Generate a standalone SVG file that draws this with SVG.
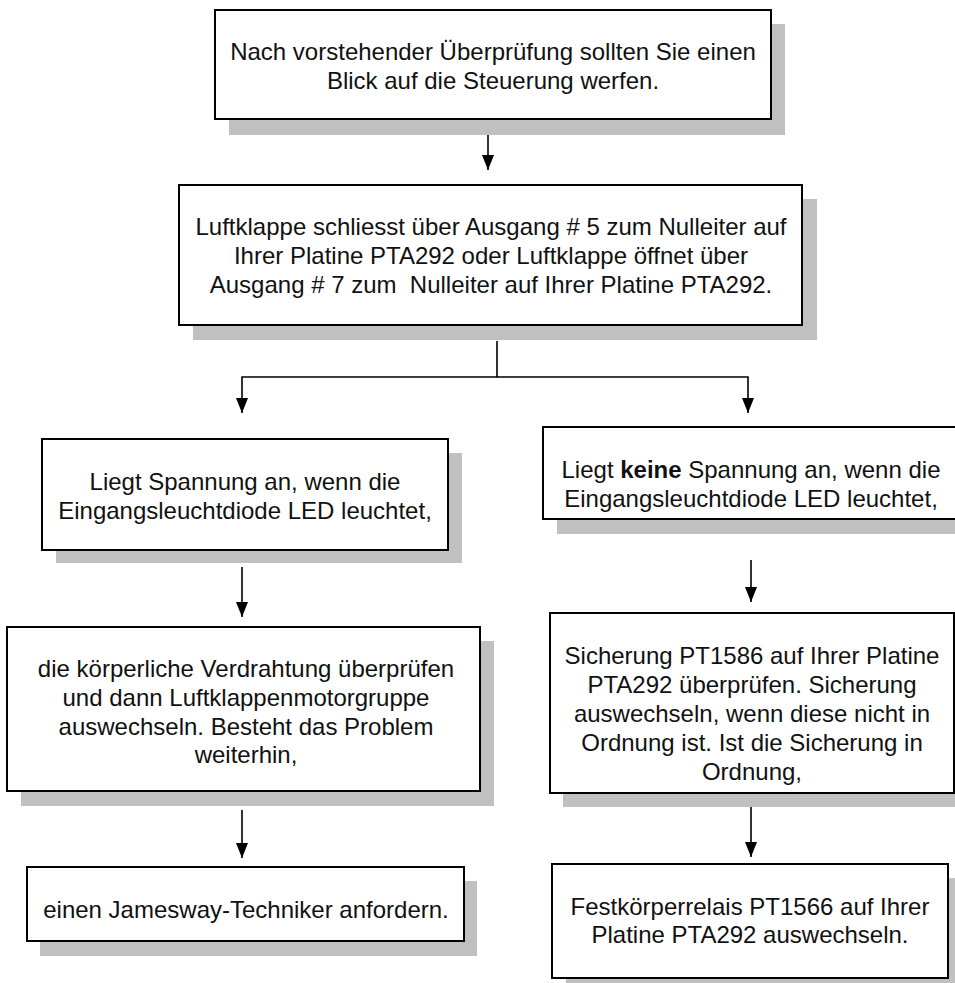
<svg xmlns="http://www.w3.org/2000/svg" width="955" height="983" viewBox="0 0 955 983">
  <style>
    .box { fill: #ffffff; stroke: #000000; stroke-width: 2; }
    .shadow { fill: #c0c0c0; stroke: none; }
    .txt { font-family: "Liberation Sans", Arial, Helvetica, sans-serif; font-size: 24px; fill: #111111; text-anchor: middle; }
    .bold { font-weight: bold; }
    .wire { fill: none; stroke: #000000; stroke-width: 1.6; }
  </style>
  <defs>
    <marker id="arrow" markerUnits="userSpaceOnUse" viewBox="0 0 15 12" refX="15" refY="6" markerWidth="15" markerHeight="12" orient="auto">
      <path d="M0,0 L15,6 L0,12 z" fill="#000000"/>
    </marker>
  </defs>

  <rect width="955" height="983" fill="#ffffff"/>

  <!-- connectors -->
  <g id="connectors">
    <path class="wire" d="M488,135 L488,170" marker-end="url(#arrow)"/>
    <path class="wire" d="M497,341 L497,377 L242,377 L242,413" marker-end="url(#arrow)"/>
    <path class="wire" d="M497,377 L748,377 L748,413" marker-end="url(#arrow)"/>
    <path class="wire" d="M242,567 L242,617" marker-end="url(#arrow)"/>
    <path class="wire" d="M242,810 L242,858" marker-end="url(#arrow)"/>
    <path class="wire" d="M751,560 L751,602" marker-end="url(#arrow)"/>
    <path class="wire" d="M751,807 L751,857" marker-end="url(#arrow)"/>
  </g>

  <!-- start -->
  <g id="n1">
    <rect class="shadow" x="229" y="24" width="556" height="111"/>
    <rect class="box" x="215" y="10" width="556" height="109"/>
    <text class="txt" x="493" y="60">Nach vorstehender Überprüfung sollten Sie einen</text>
    <text class="txt" x="493" y="89">Blick auf die Steuerung werfen.</text>
  </g>

  <g id="n2">
    <rect class="shadow" x="193" y="199" width="624" height="141"/>
    <rect class="box" x="179" y="185" width="623" height="140"/>
    <text class="txt" x="491" y="235">Luftklappe schliesst über Ausgang # 5 zum Nulleiter auf</text>
    <text class="txt" x="491" y="264">Ihrer Platine PTA292 oder Luftklappe öffnet über</text>
    <text class="txt" x="491" y="293" xml:space="preserve">Ausgang # 7 zum  Nulleiter auf Ihrer Platine PTA292.</text>
  </g>

  <!-- left branch -->
  <g id="n3">
    <rect class="shadow" x="56" y="453" width="406" height="110"/>
    <rect class="box" x="42" y="439" width="406" height="111"/>
    <text class="txt" x="245" y="490">Liegt Spannung an, wenn die</text>
    <text class="txt" x="245" y="519">Eingangsleuchtdiode LED leuchtet,</text>
  </g>

  <g id="n5">
    <rect class="shadow" x="21" y="641" width="473" height="165"/>
    <rect class="box" x="7" y="627" width="473" height="164"/>
    <text class="txt" x="246" y="677">die körperliche Verdrahtung überprüfen</text>
    <text class="txt" x="246" y="706">und dann Luftklappenmotorgruppe</text>
    <text class="txt" x="246" y="734.5">auswechseln. Besteht das Problem</text>
    <text class="txt" x="246" y="763">weiterhin,</text>
  </g>

  <g id="n6">
    <rect class="shadow" x="40" y="881" width="437" height="75"/>
    <rect class="box" x="27" y="867" width="437" height="74"/>
    <text class="txt" x="246" y="918">einen Jamesway-Techniker anfordern.</text>
  </g>

  <!-- right branch -->
  <g id="n4">
    <rect class="shadow" x="557" y="441" width="412" height="93"/>
    <rect class="box" x="543" y="427" width="414" height="92"/>
    <text class="txt" x="751" y="478">Liegt <tspan class="bold">keine</tspan> Spannung an, wenn die</text>
    <text class="txt" x="751" y="507">Eingangsleuchtdiode LED leuchtet,</text>
  </g>

  <g id="n7">
    <rect class="shadow" x="563" y="627" width="404" height="180"/>
    <rect class="box" x="550" y="613" width="404" height="180"/>
    <text class="txt" x="752" y="664">Sicherung PT1586 auf Ihrer Platine</text>
    <text class="txt" x="752" y="693">PTA292 überprüfen. Sicherung</text>
    <text class="txt" x="752" y="722">auswechseln, wenn diese nicht in</text>
    <text class="txt" x="752" y="750.5">Ordnung ist. Ist die Sicherung in</text>
    <text class="txt" x="752" y="779.5">Ordnung,</text>
  </g>

  <g id="n8">
    <rect class="shadow" x="566" y="878" width="396" height="114"/>
    <rect class="box" x="552" y="864" width="396" height="114"/>
    <text class="txt" x="750" y="915">Festkörperrelais PT1566 auf Ihrer</text>
    <text class="txt" x="750" y="943">Platine PTA292 auswechseln.</text>
  </g>
</svg>
